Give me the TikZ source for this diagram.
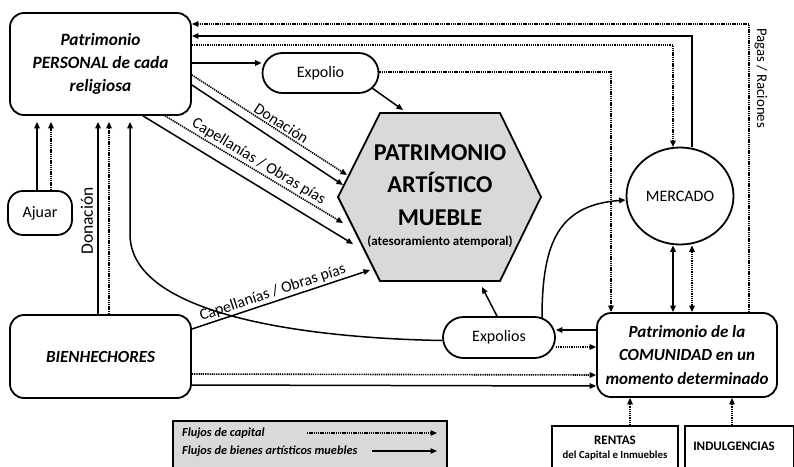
\documentclass[tikz,border=0pt]{standalone}
\usepackage{fontspec}
\setmainfont{Carlito}
\usetikzlibrary{arrows.meta,shapes.geometric,shapes.misc}
\definecolor{hexgray}{RGB}{217,217,217}
\definecolor{leggray}{RGB}{217,217,217}
\tikzset{
  tip/.tip={Triangle[length=6.5pt,width=5.5pt]},
  goods/.style={line width=1.5pt,-tip},
  capflow/.style={line width=1.6pt,dash pattern=on 1.3pt off 0.9pt,-tip},
  goodsboth/.style={line width=1.5pt,tip-tip},
  capboth/.style={line width=1.6pt,dash pattern=on 1.3pt off 0.9pt,tip-tip},
  bigbox/.style={draw,line width=1.8pt,rounded corners=14pt,align=center,inner sep=0pt},
  stadium/.style={draw,line width=1.8pt,rounded rectangle,inner sep=0pt,font=\fontsize{16}{18}\selectfont},
  lbl/.style={font=\fontsize{15.8}{18}\selectfont,inner sep=1.5pt},
  sqbox/.style={draw,line width=1.5pt,fill=white,inner sep=0pt,align=center},
}
\begin{document}
\begin{tikzpicture}[x=1pt,y=-1pt]
\useasboundingbox (0,0) rectangle (794,466);
\clip (0,0) rectangle (794,466);

% ---------- nodes ----------
\node[bigbox,minimum width=181pt,minimum height=102pt,
      font=\fontsize{17.3}{23}\selectfont\bfseries\itshape] (pers) at (100.5,64)
  {Patrimonio\\PERSONAL de cada\\religiosa};

\node[stadium,minimum width=116pt,minimum height=40pt] (exp) at (320.5,73) {Expolio};

\draw[line width=1.8pt,fill=hexgray] (380,113) -- (500,113) -- (541,197) -- (500,281)
  -- (380,281) -- (338,197) -- cycle;
\node[align=center,inner sep=0pt,font=\fontsize{24.2}{32.5}\selectfont\bfseries] (hex) at (440,185)
  {PATRIMONIO\\ARTÍSTICO\\MUEBLE};
\node[inner sep=0pt,font=\fontsize{13}{15}\selectfont\bfseries] (hexsub) at (440,242)
  {(atesoramiento atemporal)};

\node[draw,ellipse,line width=1.8pt,minimum width=107pt,minimum height=97pt,inner sep=0pt,
      font=\fontsize{16}{18}\selectfont] (merc) at (680,196) {MERCADO};

\node[bigbox,minimum width=180pt,minimum height=84pt,
      font=\fontsize{17}{23.5}\selectfont\bfseries\itshape] (com) at (687,355)
  {Patrimonio de la\\COMUNIDAD en un\\momento determinado};

\node[stadium,minimum width=112pt,minimum height=41pt] (expos) at (499,337.5) {Expolios};

\node[bigbox,rounded corners=15pt,minimum width=64pt,minimum height=44pt,
      font=\fontsize{16}{18}\selectfont] (ajuar) at (40,213) {Ajuar};

\node[bigbox,minimum width=181pt,minimum height=83pt,
      font=\fontsize{17}{20}\selectfont\bfseries\itshape] (bien) at (100.5,356.5) {BIENHECHORES};

% legend
\node[draw,line width=1.2pt,fill=leggray,minimum width=274pt,minimum height=60pt,inner sep=0pt]
  (leg) at (310,451) {};
\node[anchor=west,inner sep=0pt,font=\fontsize{12.3}{14}\selectfont\bfseries\itshape] (legc) at (182,433)
  {Flujos de capital};
\node[anchor=west,inner sep=0pt,font=\fontsize{12.3}{14}\selectfont\bfseries\itshape] (legg) at (182,451)
  {Flujos de bienes artísticos muebles};
\coordinate (legcA) at (307,433);
\coordinate (legcB) at (437,433);
\coordinate (leggA) at (372,451);
\coordinate (leggB) at (437,451);
\draw[capflow,line width=1.2pt] (legcA) -- (legcB);
\draw[goods,line width=1.2pt] (leggA) -- (leggB);

% bottom boxes
\node[sqbox,minimum width=126pt,minimum height=50pt] (rent) at (615,451) {};
\node[inner sep=0pt,font=\fontsize{13}{15}\selectfont\bfseries] (rentt) at (615,440) {RENTAS};
\node[inner sep=0pt,font=\fontsize{10.8}{12}\selectfont\bfseries] (rents) at (615,456) {del Capital e Inmuebles};
\node[sqbox,minimum width=109pt,minimum height=50pt] (indu) at (739.5,451) {};
\node[inner sep=0pt,font=\fontsize{13}{15}\selectfont\bfseries] (indut) at (734,446) {INDULGENCIAS};

% ---------- helper coordinates ----------
\coordinate (hDon) at (347,175);
\coordinate (hDonS) at (343,185);
\coordinate (hCap) at (343,223);
\coordinate (hCapS) at (353,244);
\coordinate (hBien) at (370,270);
\coordinate (hExp) at (403,110);
\coordinate (hExpos) at (482,287);
\coordinate (expSE) at (372,88);
\coordinate (exposNE) at (542,318);
\coordinate (mercTopL) at (673,147);

% ---------- connectors ----------
% Ajuar -> Personal
\draw[goods,shorten >=6pt] (ajuar.north -| 37,0) -- (pers.south -| 37,0);
\draw[capflow,shorten >=6pt] (ajuar.north -| 51,0) -- (pers.south -| 51,0);
% Bienhechores -> Personal
\draw[goods,shorten >=6pt] (bien.north -| 98,0) -- (pers.south -| 98,0);
\draw[capflow,shorten >=6pt] (bien.north -| 109,0) -- (pers.south -| 109,0);
\node[lbl,rotate=90,font=\fontsize{17.5}{20}\selectfont] (donv) at (87,221) {Donación};

% Expolios -> Personal (big curve)
\draw[goods,shorten >=6pt] ([yshift=-3pt]expos.west) .. controls (305,338) and (131,315) .. (130,235)
  -- (pers.south -| 130,0);

% Personal -> Expolio
\draw[goods] (pers.east |- 0,63) -- (exp.west |- 0,63);
% Expolio -> hexagon
\draw[goods] (expSE) -- (hExp);
% Expolio -> Comunidad (capital)
\draw[capflow] (exp.east |- 0,72) -| (com.north -| 611,0);

% Personal -> hexagon
\draw[capflow] (pers.east |- 0,75) -- node[lbl,pos=0.55,above,sloped] (donl) {Donación} (hDon);
\draw[goods] (pers.east |- 0,85) -- (hDonS);
\draw[capflow] (pers.south -| 165,0) -- node[lbl,pos=0.5,above,sloped] (capl) {Capellanías / Obras pías} (hCap);
\draw[goods] (pers.south -| 143,0) -- (hCapS);

% Bienhechores -> hexagon
\draw[goods] (bien.east |- 0,329) -- node[lbl,pos=0.47,above,sloped] (capb) {Capellanías / Obras pías} (hBien);

% Bienhechores -> Comunidad
\draw[capflow] (bien.east |- 0,374) -- (com.west |- 0,375);
\draw[goods] (bien.east |- 0,385) -- (com.west |- 0,386);

% Personal <-> Mercado
\draw[capflow] (pers.east |- 0,45) -| (mercTopL);
\draw[goods] (merc.north -| 692,0) |- (pers.east |- 0,36);

% Comunidad -> Personal (Pagas / Raciones)
\draw[capflow] (com.north -| 749,0) |- (pers.east |- 0,24);
\node[lbl,rotate=-90,font=\fontsize{14.8}{17}\selectfont] (pagas) at (761,78) {Pagas / Raciones};

% Mercado <-> Comunidad
\draw[goodsboth] (merc.south -| 673,0) -- (com.north -| 673,0);
\draw[capboth] (merc.south -| 692,0) -- (com.north -| 692,0);

% Expolios <-> Comunidad
\draw[goods] (com.west |- 0,330) -- (expos.east |- 0,330);
\draw[capflow] (expos.east |- 0,347) -- (com.west |- 0,347);

% Expolios -> hexagon
\draw[goods] (expos.north -| 497,0) -- (hExpos);
% Expolios -> Mercado
\draw[goods] (exposNE) .. controls (542,240) and (560,205) .. (merc.west |- 0,200);

% Rentas / Indulgencias -> Comunidad
\draw[capflow] (rent.north -| 630,0) -- (com.south -| 630,0);
\draw[capflow] (indu.north -| 732,0) -- (com.south -| 732,0);
\end{tikzpicture}
\end{document}
